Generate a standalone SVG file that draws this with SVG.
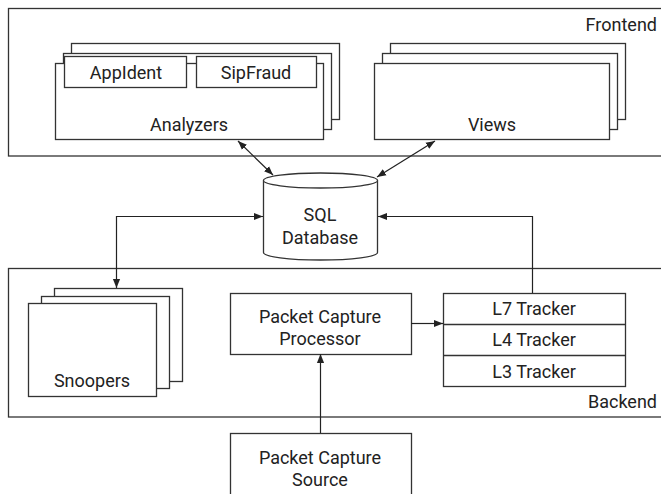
<svg xmlns="http://www.w3.org/2000/svg" width="661" height="494" viewBox="0 0 661 494">
<style>
.b{fill:#fff;stroke:#333;stroke-width:1.3}
.g{fill:none;stroke:#333;stroke-width:1.3}
text{font-family:Roboto,"Liberation Sans",sans-serif;font-size:18px;fill:#222;text-anchor:middle;dominant-baseline:central}
.r{text-anchor:end}
.c{fill:none;stroke:#222;stroke-width:1.2}
</style>
<defs>
<marker id="ah" viewBox="0 0 10 10" refX="10" refY="5" markerWidth="9" markerHeight="9" markerUnits="userSpaceOnUse" orient="auto-start-reverse">
<path d="M0,1 L10,5 L0,9 Z" fill="#222"/>
</marker>
</defs>
<rect id="bg" x="0" y="0" width="661" height="494" fill="#fff"/>
<g id="frontend">
<rect class="g" x="8.5" y="8.5" width="660" height="147.5"/>
<text class="r" x="657" y="24">Frontend</text>
</g>
<g id="backend">
<rect class="g" x="8.5" y="268.5" width="660" height="148.5"/>
<text class="r" x="657" y="401">Backend</text>
</g>
<g id="analyzers">
<rect class="b" x="71.5" y="43.5" width="268" height="76"/>
<rect class="b" x="63.5" y="53.5" width="268" height="76"/>
<rect class="b" x="55.5" y="63.5" width="268" height="76"/>
<text x="189" y="124">Analyzers</text>
</g>
<g id="appident">
<rect class="b" x="64.5" y="56.5" width="122" height="31"/>
<text x="126" y="72">AppIdent</text>
</g>
<g id="sipfraud">
<rect class="b" x="196.5" y="56.5" width="120" height="31"/>
<text x="256" y="72">SipFraud</text>
</g>
<g id="views">
<rect class="b" x="390.5" y="43.5" width="235" height="76"/>
<rect class="b" x="382.5" y="53.5" width="235" height="76"/>
<rect class="b" x="374.5" y="63.5" width="235" height="76"/>
<text x="492" y="124">Views</text>
</g>
<g id="database">
<path class="b" d="M263.5,180.5 L263.5,252.5 A57,7.5 0 0 0 377.5,252.5 L377.5,180.5"/>
<ellipse class="b" cx="320.5" cy="180.5" rx="57" ry="7.5"/>
<text x="320" y="214">SQL</text>
<text x="320" y="237">Database</text>
</g>
<g id="snoopers">
<rect class="b" x="54.5" y="288.5" width="128" height="93"/>
<rect class="b" x="41.5" y="296.5" width="128" height="92"/>
<rect class="b" x="28.5" y="303.5" width="128" height="93"/>
<text x="92" y="380">Snoopers</text>
</g>
<g id="processor">
<rect class="b" x="230.5" y="293.5" width="181" height="61"/>
<text x="320" y="316">Packet Capture</text>
<text x="320" y="338">Processor</text>
</g>
<g id="trackers">
<rect class="b" x="443.5" y="293.5" width="182" height="93"/>
<line class="g" x1="443.5" y1="324.5" x2="625.5" y2="324.5"/>
<line class="g" x1="443.5" y1="355.5" x2="625.5" y2="355.5"/>
<text x="534" y="308">L7 Tracker</text>
<text x="534" y="339">L4 Tracker</text>
<text x="534" y="371">L3 Tracker</text>
</g>
<g id="source">
<rect class="b" x="230.5" y="433.5" width="181" height="80"/>
<text x="320" y="457">Packet Capture</text>
<text x="320" y="479">Source</text>
</g>
<g id="connectors">
<line class="c" x1="238" y1="141" x2="273" y2="175" marker-start="url(#ah)" marker-end="url(#ah)"/>
<line class="c" x1="435" y1="141" x2="377" y2="177" marker-start="url(#ah)" marker-end="url(#ah)"/>
<polyline class="c" points="116.5,288 116.5,216.5 263,216.5" marker-start="url(#ah)" marker-end="url(#ah)"/>
<polyline class="c" points="532.5,293 532.5,216.5 378,216.5" marker-end="url(#ah)"/>
<line class="c" x1="411" y1="323.5" x2="443" y2="323.5" marker-end="url(#ah)"/>
<line class="c" x1="320.5" y1="433" x2="320.5" y2="354" marker-end="url(#ah)"/>
</g>
</svg>
